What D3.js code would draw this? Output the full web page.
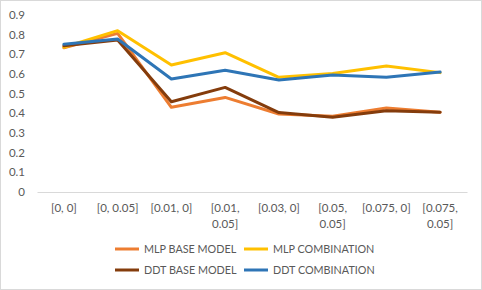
<!DOCTYPE html>
<html><head><meta charset="utf-8">
<script src="https://cdn.jsdelivr.net/npm/d3@7"></script>
<style>body{margin:0;background:#fff}svg{display:block}text{font-family:Lato,"Open Sans",sans-serif;fill:#595959}</style>
</head><body><svg id="c" width="482" height="290"></svg>
<script>
const categories = [["[0, 0]"],["[0, 0.05]"],["[0.01, 0]"],["[0.01,","0.05]"],["[0.03, 0]"],["[0.05,","0.05]"],["[0.075, 0]"],["[0.075,","0.05]"]];
const seriesNames = ["MLP BASE MODEL","MLP COMBINATION","DDT BASE MODEL","DDT COMBINATION"];
const mlpBase = [0.732,0.805,0.430,0.480,0.396,0.385,0.426,0.405];
const mlpComb = [0.735,0.819,0.645,0.707,0.582,0.602,0.640,0.606];
const ddtBase = [0.742,0.772,0.458,0.531,0.403,0.379,0.413,0.405];
const ddtComb = [0.750,0.777,0.574,0.618,0.569,0.594,0.582,0.609];
const yTicks = [0,0.1,0.2,0.3,0.4,0.5,0.6,0.7,0.8,0.9];
const colors = ["#ED7D31","#FFC000","#843C0C","#2E75B6"];
const seriesValues = [mlpBase, mlpComb, ddtBase, ddtComb];

const svg = d3.select("#c");
svg.append("rect").attr("x",0.5).attr("y",0.5).attr("width",481).attr("height",289).attr("fill","#fff").attr("stroke","#d9d9d9");

const x = d3.scaleBand().domain(d3.range(categories.length)).range([37,467]);
const y = d3.scaleLinear().domain([0,0.9]).range([192,14.7]);

const ya = svg.append("g").attr("transform","translate(25,0)").call(d3.axisLeft(y).tickValues(yTicks).tickSize(0).tickPadding(0).tickFormat(d=>d===0?"0":d3.format(".1f")(d)));
ya.select(".domain").remove();
ya.selectAll("text").style("font-size","11.5px").style("fill","#595959").style("font-family","Lato,'Open Sans',sans-serif");

const xa = svg.append("g").attr("transform","translate(0,192)").call(d3.axisBottom(x).tickSize(0).tickFormat(""));
xa.select(".domain").attr("stroke","#d9d9d9").attr("stroke-width",1);
xa.selectAll(".tick").each(function(d){
  const t = d3.select(this).select("text").text(null).attr("y",0).attr("dy",null)
    .style("font-size","11.5px").style("fill","#595959").style("font-family","Lato,'Open Sans',sans-serif");
  categories[d].forEach((s,i)=>t.append("tspan").attr("x",0).attr("y",20+i*16).text(s));
});

const line = d3.line().x((d,i)=>x(i)+x.bandwidth()/2).y(d=>y(d));
seriesValues.forEach((vals,k)=>{
  svg.append("path").datum(vals).attr("d",line).attr("fill","none")
    .attr("stroke",colors[k]).attr("stroke-width",3).attr("stroke-linejoin","round").attr("stroke-linecap","round");
});

const legPos = [[115,249],[244,249],[115,270],[244,270]];
seriesNames.forEach((n,k)=>{
  const g = svg.append("g").attr("transform",`translate(${legPos[k][0]},${legPos[k][1]})`);
  g.append("line").attr("x1",0).attr("x2",24).attr("stroke",colors[k]).attr("stroke-width",3);
  g.append("text").attr("x",29).attr("dy","0.35em").style("font-size","10.8px").text(n);
});
</script></body></html>
